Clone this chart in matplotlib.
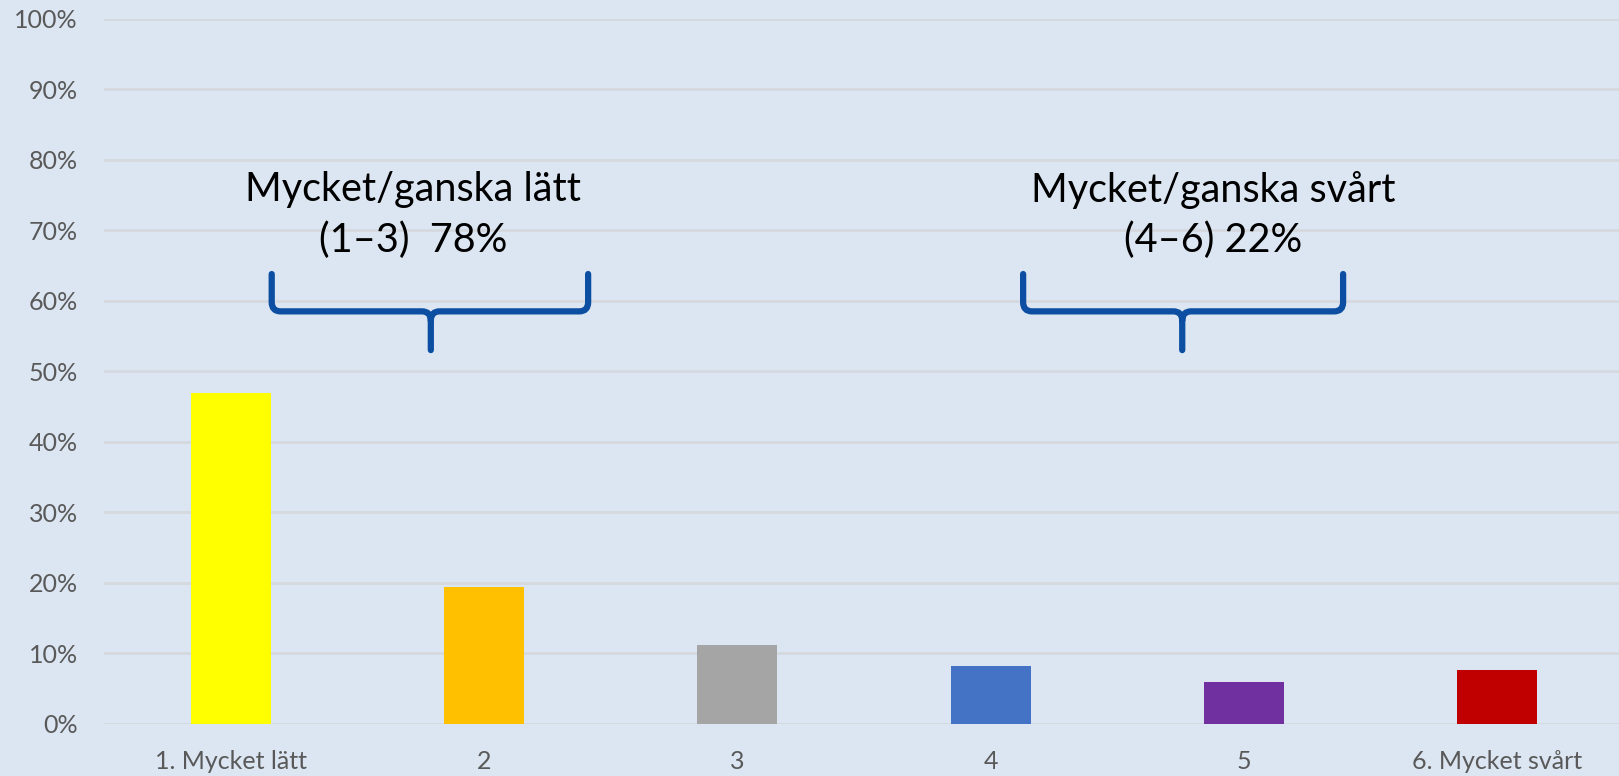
import matplotlib
matplotlib.use("Agg")
import matplotlib.pyplot as plt
from matplotlib.path import Path
from matplotlib.patches import PathPatch

plt.rcParams['font.family'] = ['Lato', 'DejaVu Sans']

categories = ["1. Mycket lätt", "2", "3", "4", "5", "6. Mycket svårt"]
values = [46.9, 19.4, 11.2, 8.1, 5.9, 7.6]
colors = ["#FFFF00", "#FFC000", "#A5A5A5", "#4472C4", "#7030A0", "#C00000"]
yticks = [0, 10, 20, 30, 40, 50, 60, 70, 80, 90, 100]
ytick_labels = [f"{t}%" for t in yticks]
group_labels = ["Mycket/ganska lätt\n(1–3)  78%", "Mycket/ganska svårt\n(4–6) 22%"]

bg = "#DCE6F2"
fig = plt.figure(figsize=(16.19, 7.76), dpi=100, facecolor=bg)
ax = fig.add_axes([104/1619, 52.5/776, 1 - 104/1619, 704.5/776])
ax.set_facecolor(bg)

x = list(range(len(categories)))
ax.bar(x, values, width=0.315, color=colors, zorder=3)

ax.set_xlim(-0.5, len(categories) - 0.52)
ax.set_ylim(0, 100)
ax.set_yticks(yticks)
ax.set_yticklabels(ytick_labels)
ax.set_xticks(x)
ax.set_xticklabels(categories)
ax.tick_params(axis='both', length=0, colors="#595959", labelsize=18)
ax.tick_params(axis='y', pad=19)
ax.tick_params(axis='x', pad=19)
for s in ax.spines.values():
    s.set_visible(False)
ax.grid(axis='y', color="#D5D9DF", linewidth=2, zorder=0)
ax.set_axisbelow(True)


def brace(ax, x0, x1, xm, ytop, yh, ytip, color="#0B4EA2"):
    rx, ry = 0.035, 1.3
    verts = [
        (x0, ytop), (x0, yh + ry),
        (x0, yh), (x0 + rx, yh),
        (xm - rx, yh),
        (xm, yh), (xm, yh - ry),
        (xm, ytip),
        (xm, yh - ry),
        (xm, yh), (xm + rx, yh),
        (x1 - rx, yh),
        (x1, yh), (x1, yh + ry),
        (x1, ytop),
    ]
    codes = [Path.MOVETO, Path.LINETO,
             Path.CURVE3, Path.CURVE3,
             Path.LINETO,
             Path.CURVE3, Path.CURVE3,
             Path.LINETO,
             Path.MOVETO,
             Path.CURVE3, Path.CURVE3,
             Path.LINETO,
             Path.CURVE3, Path.CURVE3,
             Path.LINETO]
    p = PathPatch(Path(verts, codes), fill=False, edgecolor=color, lw=4.5,
                  capstyle='round', joinstyle='round', zorder=5)
    ax.add_patch(p)


brace(ax, 0.162, 1.411, 0.79, 63.8, 58.5, 53.0)
brace(ax, 3.128, 4.391, 3.756, 63.8, 58.5, 53.0)

ax.text(0.72, 72.2, group_labels[0], ha='center', va='center', fontsize=28.5,
        color='black', linespacing=1.42, zorder=6)
ax.text(3.878, 72.2, group_labels[1], ha='center', va='center', fontsize=28.5,
        color='black', linespacing=1.42, zorder=6)

fig.savefig("out.png", dpi=100, facecolor=bg)
